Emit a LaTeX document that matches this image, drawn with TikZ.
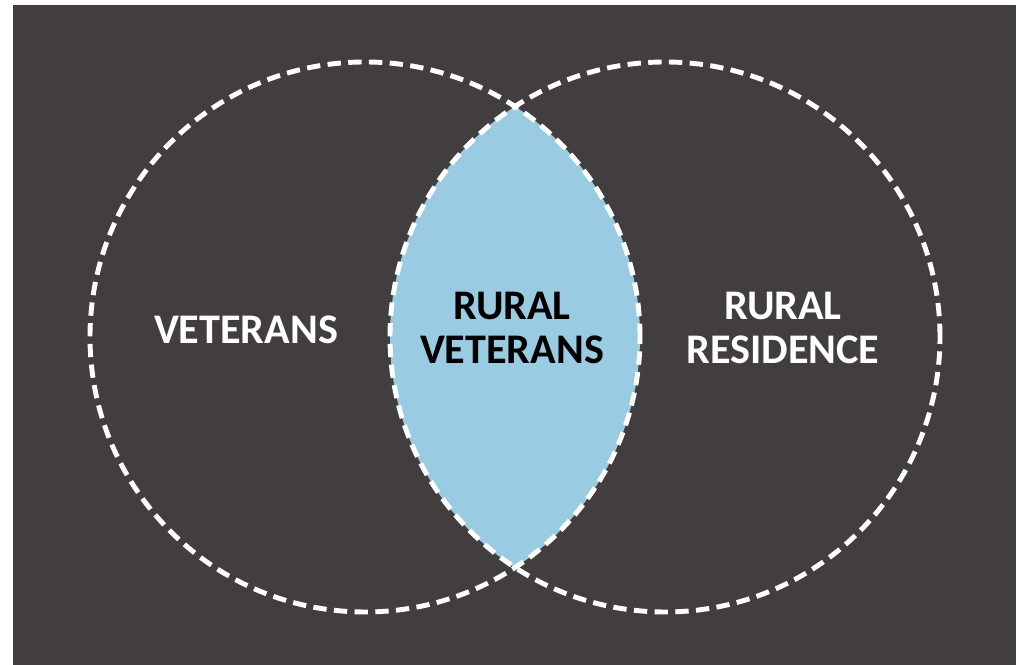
\documentclass[tikz,border=0pt]{standalone}
\usepackage{fontspec}
\setmainfont{Carlito}
\usepackage{tikz}
\definecolor{slate}{HTML}{423E3F}
\definecolor{lensblue}{HTML}{99CCE3}

\begin{document}
\begin{tikzpicture}[
    setline/.style={draw=white, line width=1.4pt, dash pattern=on 3.8pt off 2.1pt},
    lbl/.style={font=\fontsize{12}{12.4}\selectfont\bfseries, align=center, inner sep=0pt}
  ]
    \useasboundingbox (0,0) rectangle (10.19,6.65);
    \fill[slate] (0.13,0) rectangle (10.16,6.60);

    \coordinate (vet) at (3.65,3.28);
    \coordinate (rur) at (6.65,3.28);

    % overlap
    \begin{scope}
      \clip (vet) circle (2.75);
      \fill[lensblue] (rur) circle (2.75);
    \end{scope}

    \draw[setline] (vet) circle (2.75);
    \draw[setline] (rur) circle (2.75);

    \node[lbl, text=white] (vetlbl) at (2.46,3.35) {VETERANS};
    \node[lbl, text=black] (bothlbl) at (5.12,3.37) {RURAL\\VETERANS};
    \node[lbl, text=white] (rurlbl) at (7.83,3.37) {RURAL\\RESIDENCE};
  \end{tikzpicture}
\end{document}
